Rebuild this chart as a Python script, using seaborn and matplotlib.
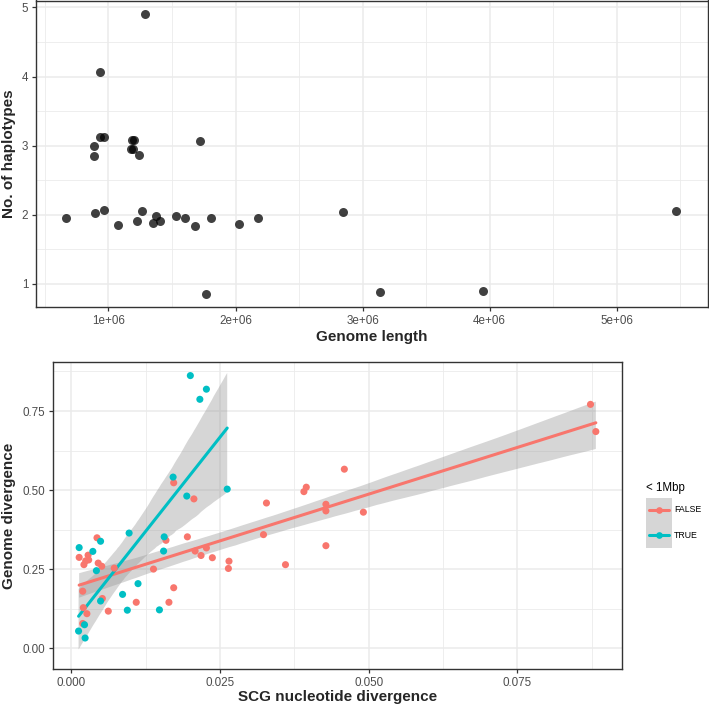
import numpy as np
import pandas as pd
import matplotlib
matplotlib.use("Agg")
import matplotlib.pyplot as plt
import seaborn as sns
from matplotlib.lines import Line2D
from matplotlib.patches import Rectangle
from matplotlib.ticker import AutoMinorLocator

# ---------------- data: top panel ----------------
genome_length = [1.287e6, 0.935e6, 0.932e6, 0.962e6, 0.890e6, 0.887e6, 1.186e6, 1.205e6,
                 1.181e6, 1.192e6, 1.244e6, 1.717e6, 0.669e6, 0.895e6, 0.969e6, 1.076e6,
                 1.228e6, 1.265e6, 1.375e6, 1.354e6, 1.407e6, 1.528e6, 1.601e6, 1.680e6,
                 1.806e6, 1.769e6, 2.031e6, 2.179e6, 2.845e6, 3.134e6, 3.947e6, 5.470e6]
n_haplotypes = [4.90, 4.07, 3.12, 3.12, 3.00, 2.85, 3.08, 3.08,
                2.95, 2.95, 2.86, 3.07, 1.96, 2.03, 2.07, 1.86,
                1.91, 2.06, 1.99, 1.88, 1.91, 1.98, 1.95, 1.84,
                1.95, 0.85, 1.87, 1.96, 2.04, 0.88, 0.90, 2.06]

top_xticks = [1e6, 2e6, 3e6, 4e6, 5e6]
top_xticklabels = ["1e+06", "2e+06", "3e+06", "4e+06", "5e+06"]
top_yticks = [1, 2, 3, 4, 5]
top_yticklabels = ["1", "2", "3", "4", "5"]

# ---------------- data: bottom panel ----------------
scg_false = [0.0013, 0.0021, 0.0024, 0.0029, 0.0028, 0.0043, 0.0045, 0.0051, 0.0072,
             0.0019, 0.0020, 0.0026, 0.0019, 0.0052, 0.0062, 0.0109, 0.0164, 0.0172,
             0.0138, 0.0159, 0.0172, 0.0206, 0.0195, 0.0208, 0.0218, 0.0227, 0.0237,
             0.0264, 0.0265, 0.0328, 0.0323, 0.0360, 0.0391, 0.0395, 0.0428, 0.0428,
             0.0428, 0.0459, 0.0491, 0.0873, 0.0882]
gd_false = [0.287, 0.264, 0.276, 0.279, 0.294, 0.349, 0.269, 0.259, 0.253,
            0.180, 0.128, 0.109, 0.078, 0.157, 0.117, 0.145, 0.145, 0.191,
            0.250, 0.341, 0.523, 0.472, 0.352, 0.307, 0.293, 0.317, 0.286,
            0.252, 0.275, 0.459, 0.359, 0.264, 0.495, 0.509, 0.455, 0.434,
            0.324, 0.566, 0.430, 0.771, 0.685]
scg_true = [0.0200, 0.0216, 0.0227, 0.0171, 0.0194, 0.0262, 0.0097, 0.0156, 0.0155,
            0.0013, 0.0036, 0.0049, 0.0042, 0.0112, 0.0086, 0.0049, 0.0094, 0.0148,
            0.0022, 0.0012, 0.0023]
gd_true = [0.862, 0.787, 0.819, 0.541, 0.481, 0.503, 0.364, 0.352, 0.307,
           0.318, 0.306, 0.338, 0.245, 0.204, 0.170, 0.149, 0.120, 0.121,
           0.074, 0.054, 0.032]

bot_xticks = [0.0, 0.025, 0.05, 0.075]
bot_xticklabels = ["0.000", "0.025", "0.050", "0.075"]
bot_yticks = [0.0, 0.25, 0.5, 0.75]
bot_yticklabels = ["0.00", "0.25", "0.50", "0.75"]

group_labels = ["FALSE", "TRUE"]
legend_title = "< 1Mbp"
palette = {"FALSE": "#F8766D", "TRUE": "#00BFC4"}

df_top = pd.DataFrame({"Genome length": genome_length, "No. of haplotypes": n_haplotypes})
df_bot = pd.DataFrame({
    "SCG": scg_false + scg_true,
    "GD": gd_false + gd_true,
    "group": ["FALSE"] * len(scg_false) + ["TRUE"] * len(scg_true),
})

sns.set_theme(style="whitegrid")
plt.rcParams['font.family'] = ['Liberation Sans', 'DejaVu Sans']

W, H = 709, 708
fig = plt.figure(figsize=(W / 100, H / 100), dpi=100)
fig.patch.set_facecolor("white")

def rect(l, t, r, b):
    return [l / W, 1 - b / H, (r - l) / W, (b - t) / H]

ax1 = fig.add_axes(rect(36, 0.5, 708, 307))
ax2 = fig.add_axes(rect(53, 362, 622, 669))

def style(ax):
    ax.set_facecolor("white")
    for s in ax.spines.values():
        s.set_visible(True)
        s.set_color("#333333")
        s.set_linewidth(1.0)
    ax.xaxis.set_minor_locator(AutoMinorLocator(2))
    ax.yaxis.set_minor_locator(AutoMinorLocator(2))
    ax.grid(True, which="major", color="#EBEBEB", lw=1.1)
    ax.grid(True, which="minor", color="#EBEBEB", lw=0.6)
    ax.tick_params(which="major", direction="out", length=3, width=0.9,
                   color="#333333", labelsize=8.4, labelcolor="#4D4D4D", pad=2.5,
                   bottom=True, left=True)
    ax.tick_params(which="minor", length=0)
    ax.set_axisbelow(True)

# ---------------- top panel ----------------
sns.scatterplot(data=df_top, x="Genome length", y="No. of haplotypes", ax=ax1,
                color="black", alpha=0.75, s=42, linewidth=0, legend=False)
ax1.set_xlim(0.430e6, 5.718e6)
ax1.set_ylim(0.667, 5.10)
ax1.set_xticks(top_xticks)
ax1.set_xticklabels(top_xticklabels)
ax1.set_yticks(top_yticks)
ax1.set_yticklabels(top_yticklabels)
style(ax1)
ax1.set_xlabel("Genome length", fontsize=11, fontweight="bold")
ax1.set_ylabel("No. of haplotypes", fontsize=11, fontweight="bold")
ax1.xaxis.set_label_coords((372 - 36) / 672, -(337 - 307) / 306.5)
ax1.xaxis.label.set_va("center")
ax1.yaxis.set_label_coords(-(36 - 9) / 672, 0.5)
ax1.yaxis.label.set_va("center")

# ---------------- bottom panel ----------------
for g in group_labels:
    sub = df_bot[df_bot["group"] == g]
    sns.regplot(data=sub, x="SCG", y="GD", ax=ax2, scatter=False, color=palette[g],
                ci=95, n_boot=2000, seed=7, line_kws=dict(lw=2.2, zorder=2.5))
for coll in ax2.collections:
    coll.set_facecolor((0.6, 0.6, 0.6))
    coll.set_alpha(0.4)
    coll.set_edgecolor("none")
    coll.set_zorder(2)
sns.scatterplot(data=df_bot, x="SCG", y="GD", hue="group", palette=palette,
                hue_order=group_labels, ax=ax2, s=26, linewidth=0, legend=False, zorder=3)
ax2.set_xlim(-0.0031, 0.0926)
ax2.set_ylim(-0.066, 0.905)
ax2.set_xticks(bot_xticks)
ax2.set_xticklabels(bot_xticklabels)
ax2.set_yticks(bot_yticks)
ax2.set_yticklabels(bot_yticklabels)
style(ax2)
ax2.set_xlabel("SCG nucleotide divergence", fontsize=11, fontweight="bold")
ax2.set_ylabel("Genome divergence", fontsize=11, fontweight="bold")
ax2.xaxis.set_label_coords(0.5, -(697 - 669) / 307)
ax2.xaxis.label.set_va("center")
ax2.yaxis.set_label_coords(-(53 - 9) / 569, 0.5)
ax2.yaxis.label.set_va("center")

# ---------------- legend ----------------
def fx(px):
    return px / W

def fy(py):
    return 1 - py / H

fig.patches.append(Rectangle((fx(646), fy(547.5)), (671.5 - 646) / W, (547.5 - 497.5) / H,
                             transform=fig.transFigure, facecolor="#D6D6D6",
                             edgecolor="none"))
for lab, yy in zip(group_labels, [510, 535]):
    fig.add_artist(Line2D([fx(648.5), fx(669)], [fy(yy), fy(yy)], color=palette[lab],
                          lw=2.2, transform=fig.transFigure))
    fig.add_artist(Line2D([fx(658.8)], [fy(yy)], marker="o", ms=4.8, color=palette[lab],
                          lw=0, markeredgewidth=0, transform=fig.transFigure))
    fig.text(fx(674), fy(yy), lab, fontsize=6.3, va="center", ha="left", color="black")
fig.text(fx(646.5), fy(488), legend_title, fontsize=8.3, va="center", ha="left",
         color="black")

fig.savefig("out.png", dpi=100, facecolor="white")
